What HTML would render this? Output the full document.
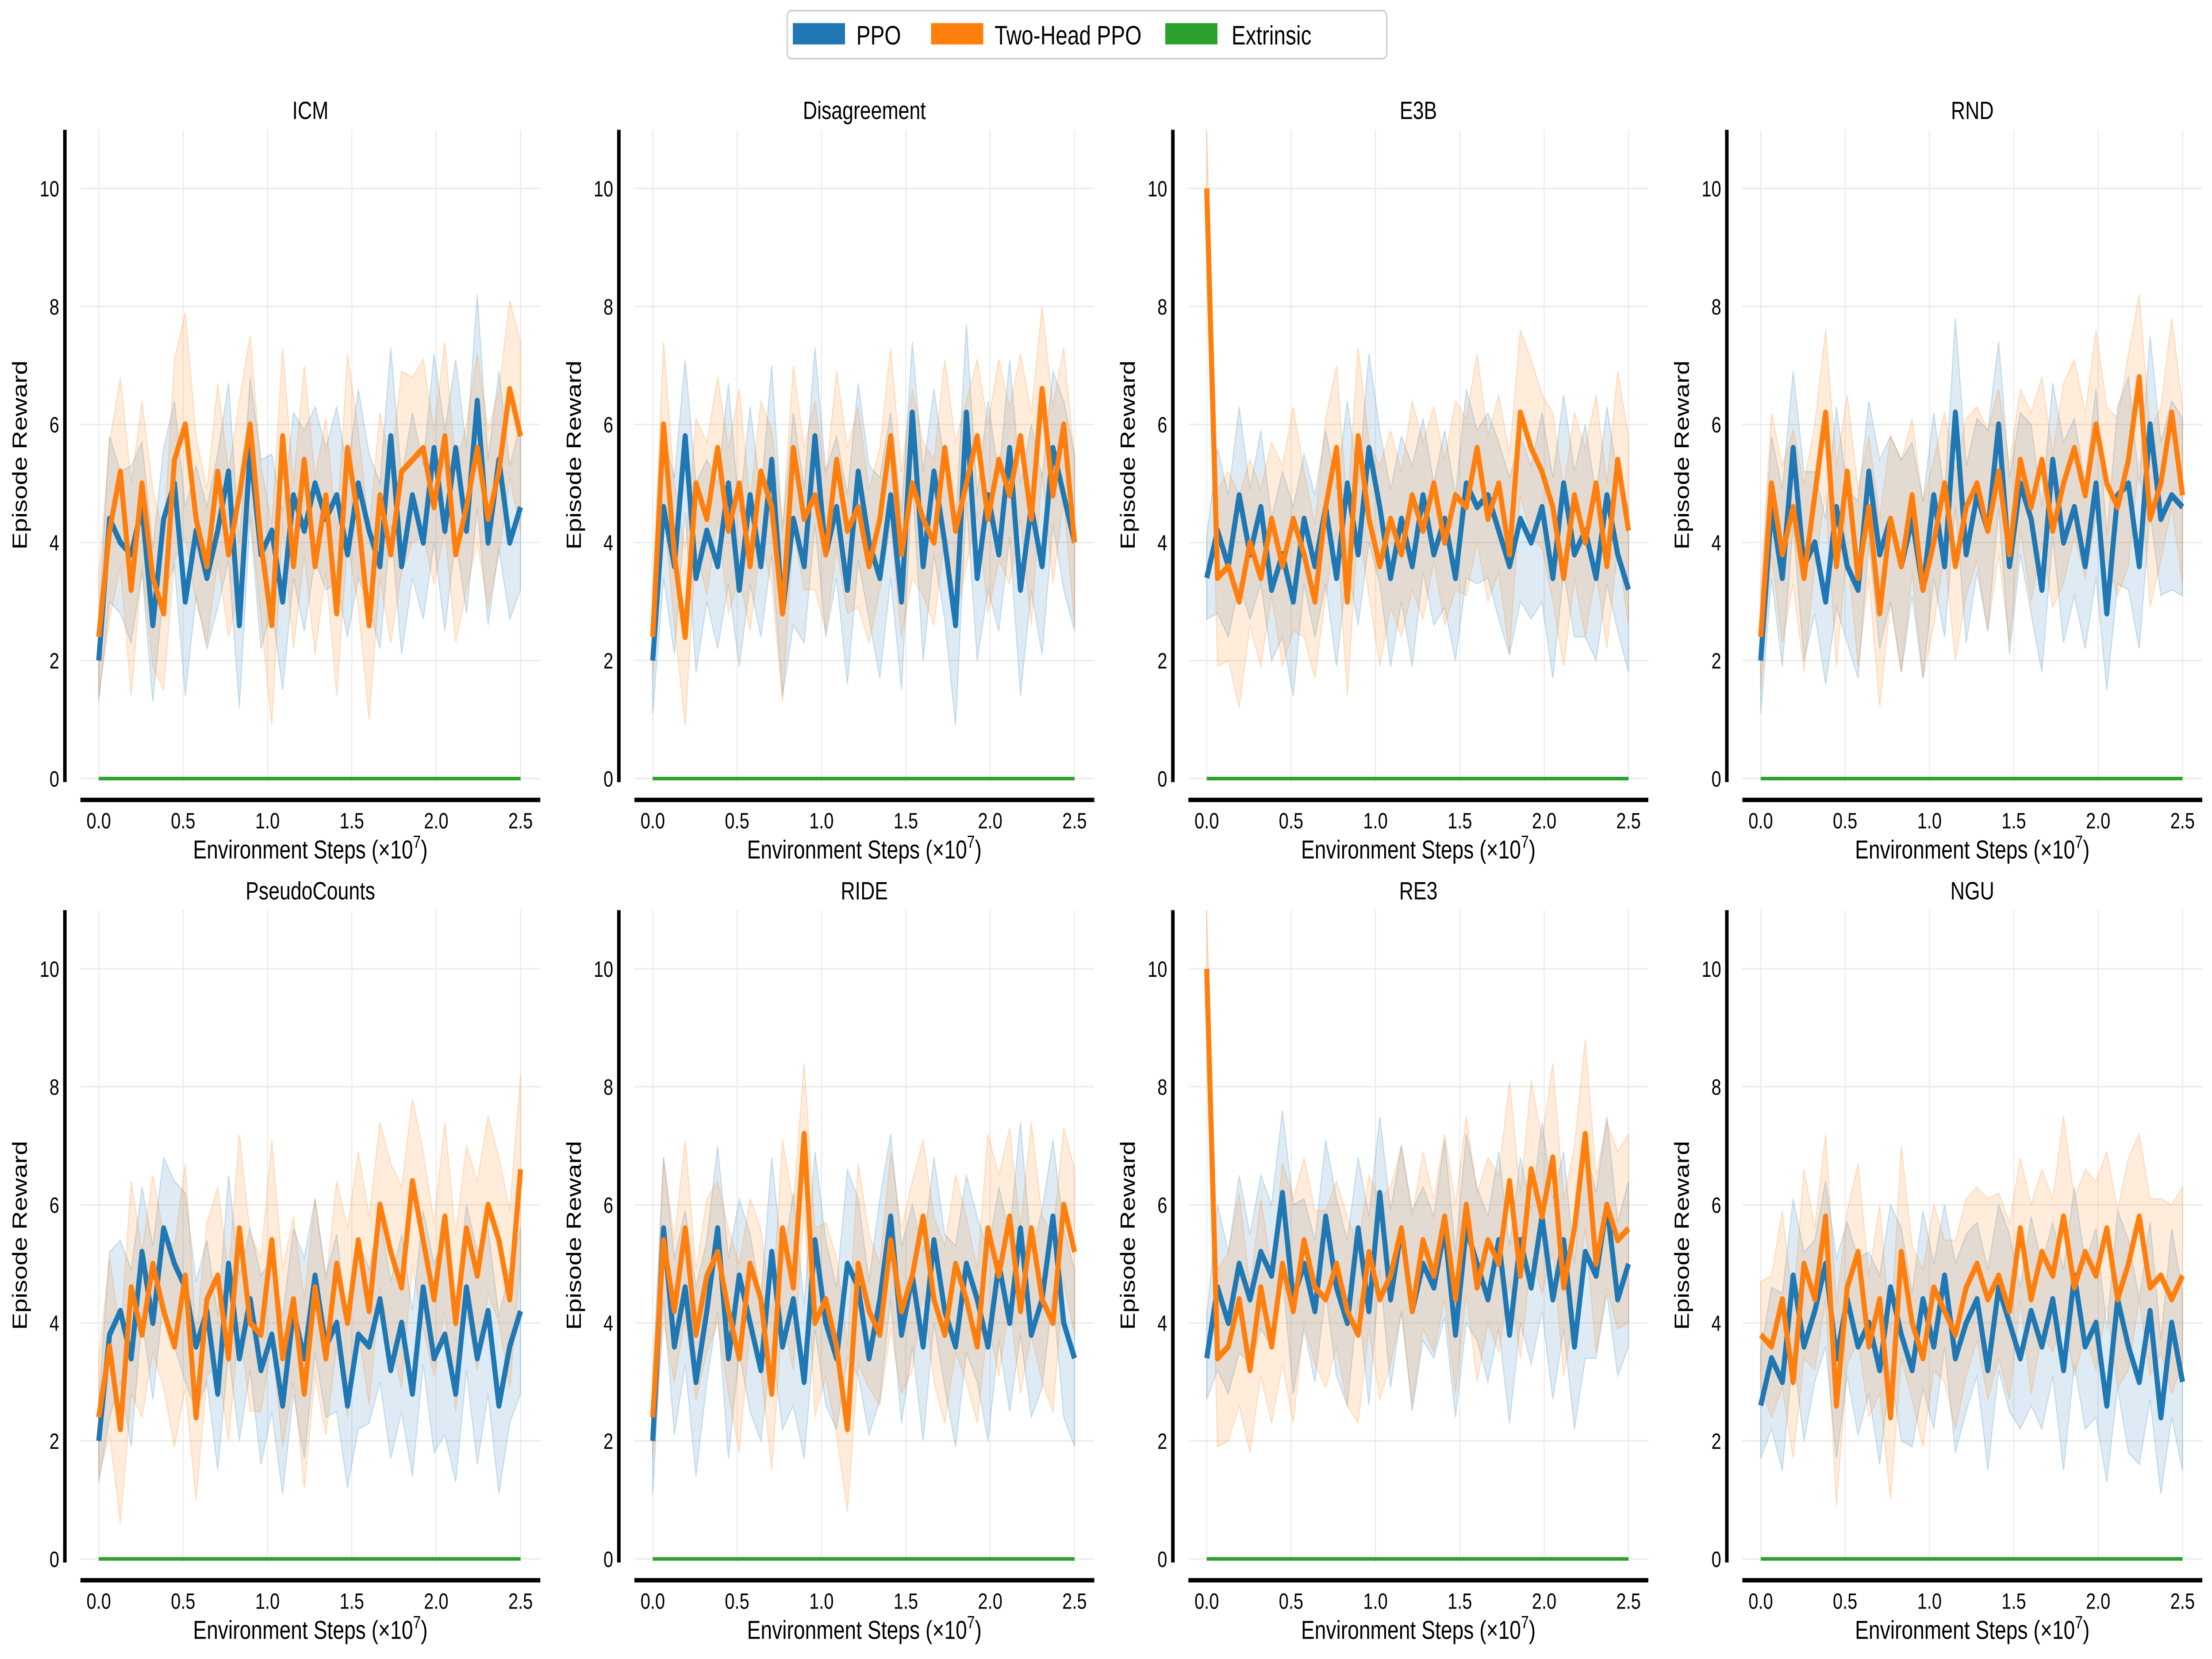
<!DOCTYPE html>
<html><head><meta charset="utf-8"><style>
html,body{margin:0;padding:0;background:#fff;overflow:hidden;width:100%;height:100%}
svg{display:block;width:100vw;height:100vh;font-family:"Liberation Sans","DejaVu Sans",sans-serif}
</style></head><body>
<svg id="chart" xmlns="http://www.w3.org/2000/svg" viewBox="0 0 1568 933.3" preserveAspectRatio="none">
<g>
<rect x="558" y="6" width="425" height="27" rx="3" fill="#fff" stroke="#d0d0d0" stroke-width="1"/>
<rect x="562" y="13" width="37" height="12" fill="#1f77b4"/>
<text x="607" y="25" font-size="15">PPO</text>
<rect x="660" y="13" width="37" height="12" fill="#ff7f0e"/>
<text x="705" y="25" font-size="15">Two-Head PPO</text>
<rect x="826" y="13" width="37" height="12" fill="#2ca02c"/>
<text x="873" y="25" font-size="15">Extrinsic</text>
</g>
</svg>
<script>
const titles=["ICM","Disagreement","E3B","RND","PseudoCounts","RIDE","RE3","NGU"];
const xTicks=[0,0.5,1.0,1.5,2.0,2.5];
const yTicks=[0,2,4,6,8,10];
const extrinsic=[0,0,0,0,0,0,0,0];
const ppoICM=[2.0,4.4,4.0,3.8,4.6,2.6,4.4,5.0,3.0,4.2,3.4,4.2,5.2,2.6,5.6,3.8,4.2,3.0,4.8,4.2,5.0,4.4,4.8,3.8,5.0,4.2,3.6,5.8,3.6,4.8,4.0,5.6,4.2,5.6,4.2,6.4,4.0,5.4,4.0,4.6];
const thICM=[2.4,4.2,5.2,3.2,5.0,3.4,2.8,5.4,6.0,4.4,3.6,5.2,3.8,4.8,6.0,4.0,2.6,5.8,3.6,5.4,3.6,4.8,2.8,5.6,4.4,2.6,4.8,3.8,5.2,5.4,5.6,4.6,5.8,3.8,4.6,5.6,4.4,5.2,6.6,5.8];
const ppoDis=[2.0,4.6,3.6,5.8,3.4,4.2,3.6,5.0,3.2,4.8,3.6,5.4,2.8,4.4,3.6,5.8,3.8,4.6,3.2,5.2,4.0,3.4,4.8,3.0,6.2,3.6,5.2,4.0,2.6,6.2,3.4,4.8,3.8,5.6,3.2,4.6,3.6,5.6,4.8,4.0];
const thDis=[2.4,6.0,3.8,2.4,5.0,4.4,5.6,4.2,5.0,3.6,5.2,4.6,2.8,5.6,4.4,4.8,3.8,5.4,4.2,4.6,3.6,4.4,5.8,3.8,5.0,4.4,4.0,5.6,4.2,5.0,5.8,4.4,5.4,4.8,5.8,4.4,6.6,4.8,6.0,4.0];
const ppoE3B=[3.4,4.2,3.6,4.8,3.8,4.6,3.2,3.8,3.0,4.4,3.6,4.6,3.4,5.0,3.8,5.6,4.6,3.4,4.4,3.6,4.8,3.8,4.4,3.4,5.0,4.6,4.8,4.2,3.6,4.4,4.0,4.6,3.4,5.0,3.8,4.2,3.4,4.8,3.8,3.2];
const thE3B=[10.0,3.4,3.6,3.0,4.0,3.4,4.4,3.6,4.4,3.8,3.0,4.6,5.6,3.0,5.8,4.4,3.6,4.4,3.8,4.8,4.2,5.0,4.0,4.8,4.6,5.6,4.4,5.0,3.8,6.2,5.6,5.2,4.6,3.4,4.8,4.0,5.0,3.6,5.4,4.2];
const ppoRND=[2.0,4.6,3.4,5.6,3.6,4.0,3.0,4.6,3.6,3.2,5.2,3.8,4.4,3.6,4.4,3.2,4.8,3.6,6.2,3.8,4.8,4.2,6.0,3.6,5.0,4.4,3.2,5.4,4.0,4.6,3.6,5.0,2.8,4.8,5.0,3.6,6.0,4.4,4.8,4.6];
const thRND=[2.4,5.0,3.8,4.6,3.4,4.8,6.2,3.6,5.2,3.4,4.6,2.8,4.4,3.6,4.8,3.2,4.0,5.0,3.6,4.6,5.0,4.2,5.2,3.8,5.4,4.6,5.4,4.2,5.0,5.6,4.8,6.0,5.0,4.6,5.4,6.8,4.4,5.0,6.2,4.8];
const ppoPC=[2.0,3.8,4.2,3.4,5.2,4.0,5.6,5.0,4.6,3.6,4.2,2.8,5.0,3.4,4.4,3.2,3.8,2.6,4.2,3.4,4.8,3.6,4.0,2.6,3.8,3.6,4.4,3.2,4.0,2.8,4.6,3.4,3.8,2.8,4.6,3.4,4.2,2.6,3.6,4.2];
const thPC=[2.4,3.6,2.2,4.6,3.8,5.0,4.2,3.6,4.8,2.4,4.4,4.8,3.4,5.6,4.0,3.8,5.4,3.4,4.4,2.8,4.6,3.4,5.0,4.0,5.4,4.2,6.0,5.2,4.6,6.4,5.4,4.4,5.8,4.0,5.6,4.8,6.0,5.4,4.4,6.6];
const ppoRIDE=[2.0,5.6,3.6,4.6,3.0,4.2,5.6,3.4,4.8,4.0,3.2,5.2,3.6,4.4,3.0,5.4,4.0,3.4,5.0,4.6,3.4,4.4,5.8,3.8,4.8,3.6,5.4,4.2,3.6,5.0,4.4,3.6,5.0,4.0,5.6,3.8,4.4,5.8,4.0,3.4];
const thRIDE=[2.4,5.4,4.2,5.6,3.8,4.8,5.2,4.2,3.4,5.0,4.4,2.8,5.6,4.6,7.2,4.0,4.4,3.6,2.2,5.0,4.2,3.8,5.4,4.2,4.8,5.8,4.4,3.8,5.0,4.4,3.6,5.6,4.8,5.8,4.2,5.6,4.4,4.0,6.0,5.2];
const ppoRE3=[3.4,4.6,4.0,5.0,4.4,5.2,4.8,6.2,4.4,5.0,4.2,5.8,4.6,4.0,5.6,4.2,6.2,4.4,5.6,4.2,5.0,4.6,5.6,3.8,5.6,5.0,4.4,5.4,3.8,5.4,4.6,5.8,4.4,5.4,3.6,5.2,4.8,6.0,4.4,5.0];
const thRE3=[10.0,3.4,3.6,4.4,3.2,4.6,3.6,5.0,4.2,5.4,4.6,4.4,5.0,4.2,3.8,5.2,4.4,4.8,5.6,4.2,5.4,4.8,5.8,4.4,6.0,4.6,5.4,5.0,6.4,4.8,6.6,5.8,6.8,4.6,5.6,7.2,5.0,6.0,5.4,5.6];
const ppoNGU=[2.6,3.4,3.0,4.8,3.6,4.2,5.0,3.4,4.4,3.6,4.0,3.2,4.6,3.8,3.2,4.4,3.6,4.8,3.4,4.0,4.4,3.2,4.6,4.0,3.4,4.2,3.6,4.4,3.2,4.8,3.6,4.0,2.6,4.4,3.6,3.0,4.2,2.4,4.0,3.0];
const thNGU=[3.8,3.6,4.4,3.0,5.0,4.4,5.8,2.6,4.6,5.2,3.6,4.4,2.4,5.2,4.0,3.4,4.6,4.2,3.8,4.6,5.0,4.4,4.8,4.2,5.6,4.4,5.2,4.8,5.8,4.6,5.2,4.8,5.6,4.4,5.0,5.8,4.6,4.8,4.4,4.8];
const sdA=[0.7,1.4,1.2,1.5,1.1,1.3,1.2,1.4,1.6,1.1,1.2,1.3,1.5,1.4,1.2,1.6,1.3,1.5,1.4,1.7,1.3,1.2,1.5,1.4,1.6,1.3,1.4,1.5,1.5,1.4,1.3,1.6,1.7,1.5,1.4,1.8,1.4,1.5,1.3,1.4];
const sdB=[1.0,1.5,1.6,1.8,1.4,1.5,1.3,1.7,1.9,1.4,1.3,1.5,1.4,1.6,1.5,1.3,1.7,1.5,1.4,1.6,1.5,1.3,1.4,1.6,1.5,1.6,1.4,1.5,1.7,1.4,1.5,1.3,1.6,1.5,1.4,1.6,1.5,1.4,1.5,1.6];
const sdC=[0.9,1.2,1.5,1.3,1.6,1.2,1.4,1.7,1.3,1.5,1.2,1.6,1.4,1.8,1.3,1.5,1.4,1.2,1.6,1.5,1.3,1.7,1.4,1.5,1.2,1.6,1.4,1.3,1.7,1.5,1.4,1.6,1.3,1.5,1.8,1.4,1.5,1.3,1.6,1.5];
const ppoData=[ppoICM,ppoDis,ppoE3B,ppoRND,ppoPC,ppoRIDE,ppoRE3,ppoNGU];
const thData=[thICM,thDis,thE3B,thRND,thPC,thRIDE,thRE3,thNGU];
const ppoSd=[sdA,sdC,sdA,sdC,sdA,sdC,sdA,sdC];
const thSd=[sdB,sdA,sdB,sdC,sdB,sdA,sdB,sdC];

const svg=document.getElementById('chart');
const NS='http://www.w3.org/2000/svg';
function mk(tag,attrs,parent){const e=document.createElementNS(NS,tag);for(const k in attrs)e.setAttribute(k,attrs[k]);parent.appendChild(e);return e;}
const BLUE='#1f77b4',ORANGE='#ff7f0e',GREEN='#2ca02c';
for(let p=0;p<8;p++){
  const c=p%4,r=Math.floor(p/4);
  const ox=c*392.7,oy=r*439;
  const X=v=>70+ox+v*119.6;
  const Y=v=>438+oy-v*33.2;
  const g=mk('g',{},svg);
  
  
  xTicks.forEach(t=>{const l=mk('line',{x1:X(t),x2:X(t),y1:73+oy,y2:440+oy,stroke:'#ebebeb','stroke-width':0.8},g);
    });
  yTicks.forEach(t=>{const l=mk('line',{x1:57+ox,x2:383+ox,y1:Y(t),y2:Y(t),stroke:'#ebebeb','stroke-width':0.8},g);
    });
  const series=[[ppoData[p],ppoSd[p],BLUE,'ppo'],[thData[p],thSd[p],ORANGE,'two-head-ppo']];
  series.forEach(([d,sd,col,nm])=>{
    const n=d.length,xs=i=>X(2.5*i/(n-1));
    let up=[],dn=[];
    for(let i=0;i<n;i++){const s=sd[i%sd.length];up.push(xs(i)+','+Y(d[i]+s));dn.push(xs(i)+','+Y(Math.max(d[i]-s,0)));}
    const b=mk('polygon',{points:up.concat(dn.reverse()).join(' '),fill:col,'fill-opacity':0.15,stroke:col,'stroke-opacity':0.2,'stroke-width':0.8},g);
    
  });
  series.forEach(([d,sd,col,nm])=>{
    const n=d.length,xs=i=>X(2.5*i/(n-1));
    const pts=d.map((v,i)=>xs(i)+','+Y(v)).join(' ');
    const l=mk('polyline',{points:pts,fill:'none',stroke:col,'stroke-width':3.6,'stroke-linejoin':'round'},g);
    
  });
  const ex=mk('line',{x1:X(0),x2:X(2.5),y1:Y(extrinsic[p]),y2:Y(extrinsic[p]),stroke:GREEN,'stroke-width':2},g);
  
  const ls=mk('line',{x1:46+ox,x2:46+ox,y1:73+oy,y2:440+oy,stroke:'#000','stroke-width':2.5},g);
  
  const bs=mk('line',{x1:57+ox,x2:383+ox,y1:450+oy,y2:450+oy,stroke:'#000','stroke-width':2.5},g);
  
  yTicks.forEach(t=>{const e=mk('text',{x:42+ox,y:Y(t)+4.5,'font-size':12.5,'text-anchor':'end'},g);e.textContent=String(t);
    });
  xTicks.forEach(t=>{const e=mk('text',{x:X(t),y:466+oy,'font-size':12.5,'text-anchor':'middle'},g);e.textContent=t.toFixed(1);
    });
  const ti=mk('text',{x:220+ox,y:67+oy,'font-size':14,'text-anchor':'middle'},g);ti.textContent=titles[p];
  
  const xl=mk('text',{x:220+ox,y:483+oy,'font-size':14.5,'text-anchor':'middle'},g);
  xl.textContent='Environment Steps (×10';
  const sup=mk('tspan',{dy:-6,'font-size':10},xl);sup.textContent='7';
  const cl=mk('tspan',{dy:6},xl);cl.textContent=')';
  
  const yl=mk('text',{x:0,y:0,'font-size':14.5,'text-anchor':'middle',transform:'translate('+(19+ox)+','+(256+oy)+') rotate(-90)'},g);
  yl.textContent='Episode Reward';
  
}
</script>
</body></html>
